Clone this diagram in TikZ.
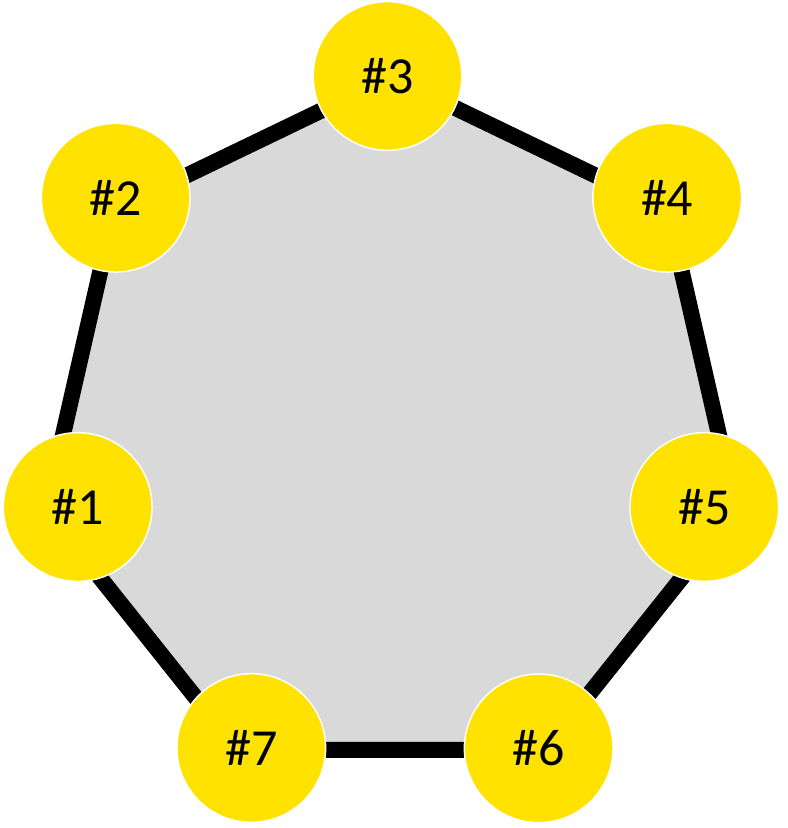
\documentclass[tikz,border=0pt]{standalone}
\usepackage{fontspec}
\setmainfont{Carlito}
\usetikzlibrary{calc}
\definecolor{ringgray}{RGB}{217,217,217}
\definecolor{memberyellow}{RGB}{255,226,0}
\tikzstyle{every path}=[line join=round,line cap=round]
\tikzstyle{member}=[circle,inner sep=0pt,minimum size=111.5pt,fill=memberyellow,draw=white,line width=1.1pt,font=\fontsize{39}{47}\selectfont]

\begin{document}
\begin{tikzpicture}[x=0.75pt,y=-0.75pt]
		\useasboundingbox (0,0) rectangle (788,828);
		
		% corners of the ring
		\foreach \k in {1,...,7}{
			\pgfmathsetmacro{\ang}{90+(\k-3)*360/7}
			\coordinate (v\k) at ({391-354*cos(\ang)},{431-354*sin(\ang)});
		}
		\draw[fill=ringgray,line width=12pt] (v1) -- (v2) -- (v3) -- (v4) -- (v5) -- (v6) -- (v7) -- cycle;
		
		% members
		\node[member] at (77.7,507) (m1) {\#1};
		\node[member] at (115.7,197.7) (m2) {\#2};
		\node[member] at (387.5,76) (m3) {\#3};
		\node[member] at (667.2,197.7) (m4) {\#4};
		\node[member] at (704.3,507) (m5) {\#5};
		\node[member] at (538.7,748.3) (m6) {\#6};
		\node[member] at (251.3,748) (m7) {\#7};
		
	\end{tikzpicture}
\end{document}
